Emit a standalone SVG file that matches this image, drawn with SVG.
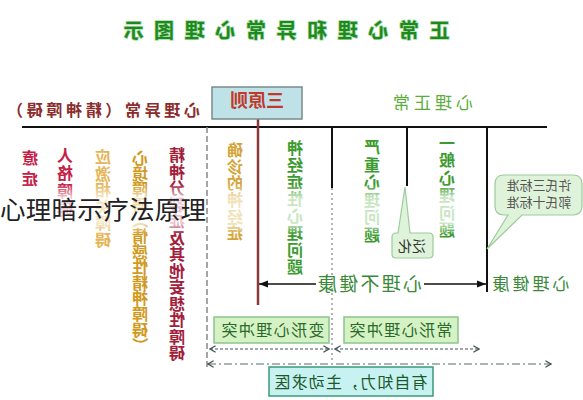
<svg xmlns="http://www.w3.org/2000/svg" width="583" height="400" viewBox="0 0 583 400">
<defs>
<style>
.t{font-family:"Noto Sans CJK SC","Noto Sans",sans-serif;text-anchor:middle}
.col{font-size:16px;font-weight:bold}
.ln{stroke:#111;stroke-width:2;fill:none}
.box{fill:#d5f2c5;stroke:#8cc48c;stroke-width:1.5}
.call{fill:#dff3da;stroke:#9ccc9c;stroke-width:1.2}
</style>
<linearGradient id="gG" gradientUnits="userSpaceOnUse" x1="0" y1="140" x2="0" y2="360">
<stop offset="0" stop-color="#3c9a30"/><stop offset="0.2" stop-color="#3c9a30"/><stop offset="0.26" stop-color="#c9e5c2"/><stop offset="0.38" stop-color="#c9e5c2"/><stop offset="0.43" stop-color="#3c9a30"/><stop offset="1" stop-color="#3c9a30"/>
</linearGradient>
<linearGradient id="gY" gradientUnits="userSpaceOnUse" x1="0" y1="140" x2="0" y2="360">
<stop offset="0" stop-color="#d4a43a"/><stop offset="0.2" stop-color="#d4a43a"/><stop offset="0.26" stop-color="#f2e2bc"/><stop offset="0.38" stop-color="#f2e2bc"/><stop offset="0.43" stop-color="#d4a43a"/><stop offset="1" stop-color="#d4a43a"/>
</linearGradient>
<linearGradient id="gO" gradientUnits="userSpaceOnUse" x1="0" y1="140" x2="0" y2="360">
<stop offset="0" stop-color="#d09a22"/><stop offset="0.2" stop-color="#d09a22"/><stop offset="0.26" stop-color="#f1ddb0"/><stop offset="0.38" stop-color="#f1ddb0"/><stop offset="0.43" stop-color="#d09a22"/><stop offset="1" stop-color="#d09a22"/>
</linearGradient>
<linearGradient id="gL" gradientUnits="userSpaceOnUse" x1="0" y1="140" x2="0" y2="360">
<stop offset="0" stop-color="#e6b456"/><stop offset="0.2" stop-color="#e6b456"/><stop offset="0.26" stop-color="#f6e6c6"/><stop offset="0.38" stop-color="#f6e6c6"/><stop offset="0.43" stop-color="#e6b456"/><stop offset="1" stop-color="#e6b456"/>
</linearGradient>
<linearGradient id="gR" gradientUnits="userSpaceOnUse" x1="0" y1="140" x2="0" y2="360">
<stop offset="0" stop-color="#a0203c"/><stop offset="0.2" stop-color="#a0203c"/><stop offset="0.26" stop-color="#ebc4cc"/><stop offset="0.38" stop-color="#ebc4cc"/><stop offset="0.43" stop-color="#a0203c"/><stop offset="1" stop-color="#a0203c"/>
</linearGradient>
<linearGradient id="gC" gradientUnits="userSpaceOnUse" x1="0" y1="140" x2="0" y2="360">
<stop offset="0" stop-color="#c41f46"/><stop offset="0.2" stop-color="#c41f46"/><stop offset="0.26" stop-color="#f0c6d0"/><stop offset="0.38" stop-color="#f0c6d0"/><stop offset="0.43" stop-color="#c41f46"/><stop offset="1" stop-color="#c41f46"/>
</linearGradient>
<marker id="ah" viewBox="0 0 10 10" refX="10" refY="5" markerWidth="10" markerHeight="9" markerUnits="userSpaceOnUse" orient="auto-start-reverse"><path d="M0,1 L10,5 L0,9 Z" fill="#111"/></marker>
<marker id="av" viewBox="0 0 10 10" refX="9" refY="5" markerWidth="8" markerHeight="8" markerUnits="userSpaceOnUse" orient="auto-start-reverse"><path d="M2,1 L9,5 L2,9" fill="none" stroke="#445555" stroke-width="1.6"/></marker>
</defs>

<rect width="583" height="400" fill="#ffffff"/>

<g id="connectors">
<line class="ln" x1="22" y1="127" x2="547" y2="127"/>
<line x1="207" y1="127" x2="207" y2="370" stroke="#888" stroke-width="1.5" stroke-dasharray="6 3"/>
<line x1="258" y1="119" x2="258" y2="305" stroke="#8b3a3a" stroke-width="2.5"/>
<line class="ln" x1="332" y1="127" x2="332" y2="188"/>
<line x1="332" y1="188" x2="332" y2="362" stroke="#999" stroke-width="1.5" stroke-dasharray="2 3"/>
<line class="ln" x1="407" y1="127" x2="407" y2="186"/>
<line class="ln" x1="487" y1="127" x2="487" y2="292"/>
<line x1="316" y1="284" x2="259" y2="284" stroke="#111" stroke-width="1.5" marker-end="url(#ah)"/>
<line x1="424" y1="284" x2="486" y2="284" stroke="#111" stroke-width="1.5" marker-end="url(#ah)"/>
<line x1="210" y1="349" x2="329" y2="349" stroke="#445555" stroke-width="1.2" stroke-dasharray="3 2" marker-start="url(#av)" marker-end="url(#av)"/>
<line x1="335" y1="349" x2="479" y2="349" stroke="#445555" stroke-width="1.2" stroke-dasharray="3 2" marker-start="url(#av)" marker-end="url(#av)"/>
<line x1="208" y1="364" x2="551" y2="364" stroke="#557060" stroke-width="1.2" stroke-dasharray="8 3 2 3" marker-start="url(#av)" marker-end="url(#av)"/>
</g>

<g id="shapes">
<rect id="box-sanyuanze" x="212" y="87" width="90" height="32" fill="#bfe1e8" stroke="#7a8a8a" stroke-width="1.5"/>
<path id="callout-fanhua" class="call" d="M396,233 H398 L405,187 L410,233 H429 Q433,233 433,237 V254 Q433,258 429,258 H396 Q392,258 392,254 V237 Q392,233 396,233 Z"/>
<path id="callout-biaozhun" class="call" d="M504,175 H573 Q582,175 582,184 V206 Q582,215 573,215 H522 L487,249 L508,215 H504 Q495,215 495,206 V184 Q495,175 504,175 Z"/>
<rect id="box-bianxing" class="box" x="214" y="317" width="115" height="26"/>
<rect id="box-changxing" class="box" x="344" y="317" width="114" height="26"/>
<rect id="box-zizhili" x="269" y="367" width="164" height="29" fill="#c8f2f2" stroke="#3a9a7a" stroke-width="1.5"/>
</g>

<g id="texts" transform="matrix(-1 0 0 1 583 0)">
<g id="title"><text class="t" x="296.5" y="38" font-size="20" font-weight="bold" textLength="326" lengthAdjust="spacing" fill="#1e8a1e" stroke="#a8dca8" stroke-width="1.5" paint-order="stroke">正常心理和异常心理图示</text></g>
<g id="hdr-abnormal"><text class="t" x="479.5" y="116" font-size="16" font-weight="bold" textLength="193" lengthAdjust="spacing" fill="#8b2d2d">心理异常（精神障碍）</text></g>
<g id="hdr-sanyuanze"><text class="t" x="326" y="107" font-size="18" font-weight="bold" fill="#c0392b">三原则</text></g>
<g id="hdr-normal"><text class="t" x="150" y="109" font-size="17" textLength="80" lengthAdjust="spacing" fill="#5cae3c">心理正常</text></g>

<g id="col-jingshen"><text class="t col" fill="url(#gR)"><tspan x="406" y="161">精</tspan><tspan x="406" y="177.5">神</tspan><tspan x="406" y="194">分</tspan><tspan x="406" y="210.5">裂</tspan><tspan x="406" y="227">症</tspan><tspan x="406" y="243.5">及</tspan><tspan x="406" y="260">其</tspan><tspan x="406" y="276.5">他</tspan><tspan x="406" y="293">妄</tspan><tspan x="406" y="309.5">想</tspan><tspan x="406" y="326">性</tspan><tspan x="406" y="342.5">障</tspan><tspan x="406" y="359">碍</tspan></text></g>
<g id="col-xinjing"><text class="t col" fill="url(#gO)"><tspan x="443" y="164">心</tspan><tspan x="443" y="179.6">境</tspan><tspan x="443" y="195.2">障</tspan><tspan x="443" y="210.8">碍</tspan><tspan x="443" y="242">情</tspan><tspan x="443" y="257.6">感</tspan><tspan x="443" y="273.2">性</tspan><tspan x="443" y="288.8">精</tspan><tspan x="443" y="304.4">神</tspan><tspan x="443" y="320">障</tspan><tspan x="443" y="335.6">碍</tspan></text>
<text class="t col" fill="url(#gO)" x="443" y="226.4" transform="rotate(90 443 220.4)">（</text>
<text class="t col" fill="url(#gO)" x="443" y="351.2" transform="rotate(90 443 345.2)">）</text></g>
<g id="col-yingji"><text class="t col" fill="url(#gL)"><tspan x="480" y="163">应</tspan><tspan x="480" y="180">激</tspan><tspan x="480" y="196">相</tspan><tspan x="480" y="213">关</tspan><tspan x="480" y="229">障</tspan><tspan x="480" y="246">碍</tspan></text></g>
<g id="col-renge"><text class="t col" fill="url(#gC)"><tspan x="518" y="161">人</tspan><tspan x="518" y="179">格</tspan><tspan x="518" y="197">障</tspan><tspan x="518" y="215">碍</tspan></text></g>
<g id="col-yizheng"><text class="t col" fill="url(#gC)"><tspan x="553" y="164">癔</tspan><tspan x="553" y="185">症</tspan></text></g>
<g id="col-quezhen"><text class="t col" fill="url(#gY)"><tspan x="348" y="156">确</tspan><tspan x="348" y="173">诊</tspan><tspan x="348" y="189">的</tspan><tspan x="348" y="206">神</tspan><tspan x="348" y="223">经</tspan><tspan x="348" y="239">症</tspan></text></g>
<g id="col-shenjingzhengxing"><text class="t col" fill="url(#gG)"><tspan x="288" y="154">神</tspan><tspan x="288" y="171">经</tspan><tspan x="288" y="188">症</tspan><tspan x="288" y="205">性</tspan><tspan x="288" y="222">心</tspan><tspan x="288" y="239">理</tspan><tspan x="288" y="256">问</tspan><tspan x="288" y="273">题</tspan></text></g>
<g id="col-yanzhong"><text class="t col" fill="url(#gG)"><tspan x="211" y="153">严</tspan><tspan x="211" y="171">重</tspan><tspan x="211" y="188">心</tspan><tspan x="211" y="206">理</tspan><tspan x="211" y="223">问</tspan><tspan x="211" y="241">题</tspan></text></g>
<g id="col-yiban"><text class="t col" fill="url(#gG)"><tspan x="136" y="149">一</tspan><tspan x="136" y="166">般</tspan><tspan x="136" y="184">心</tspan><tspan x="136" y="201">理</tspan><tspan x="136" y="219">问</tspan><tspan x="136" y="236">题</tspan></text></g>

<g id="lbl-fanhua"><text class="t" x="171" y="251" font-size="14" fill="#333">泛化</text></g>
<g id="lbl-biaozhun"><text class="t" x="44" y="190" font-size="13" fill="#555">许氏三标准</text><text class="t" x="44" y="207" font-size="13" fill="#555">郭氏十标准</text></g>
<g id="lbl-bujiankang"><text class="t" x="213" y="291" font-size="19" textLength="104" lengthAdjust="spacing" fill="#3a8a3a">心理不健康</text></g>
<g id="lbl-jiankang"><text class="t" x="52" y="290" font-size="17" textLength="77" lengthAdjust="spacing" fill="#3a8a3a">心理健康</text></g>
<g id="lbl-bianxing"><text class="t" x="310" y="336" font-size="16" textLength="103" lengthAdjust="spacing" fill="#2a6a2a">变形心理冲突</text></g>
<g id="lbl-changxing"><text class="t" x="182" y="336" font-size="16" textLength="103" lengthAdjust="spacing" fill="#2a6a2a">常形心理冲突</text></g>
<g id="lbl-zizhili"><text class="t" x="232" y="388" font-size="16" textLength="153" lengthAdjust="spacing" fill="#1a5a2a">有自知力，主动求医</text></g>
</g>

<g id="overlay"><text x="0" y="219" font-family="Noto Sans CJK SC, sans-serif" font-size="25.5" textLength="206" lengthAdjust="spacing" fill="#222">心理暗示疗法原理</text></g>
</svg>
